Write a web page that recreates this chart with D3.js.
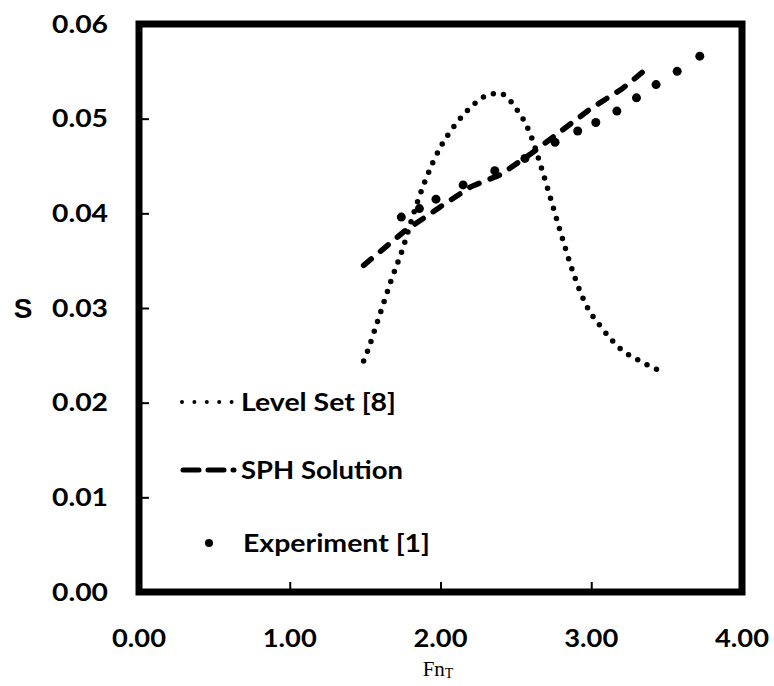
<!DOCTYPE html>
<html><head><meta charset="utf-8">
<script src="https://cdn.jsdelivr.net/npm/d3@7"></script>
<style>body{margin:0;background:#fff}svg{display:block}</style>
</head><body>
<svg id="chart" width="774" height="686"></svg>
<script>
// ---- data ----
const xTicks = [0, 1, 2, 3, 4];
const xTickLabels = ["0.00", "1.00", "2.00", "3.00", "4.00"];
const yTicks = [0, 0.01, 0.02, 0.03, 0.04, 0.05, 0.06];
const yTickLabels = ["0.00", "0.01", "0.02", "0.03", "0.04", "0.05", "0.06"];

const levelSetX = [1.49, 1.52, 1.57, 1.62, 1.67, 1.75, 1.82, 1.90, 2.00, 2.10, 2.20, 2.30, 2.39, 2.45, 2.50, 2.55, 2.60, 2.65, 2.70, 2.75, 2.80, 2.86, 2.92, 2.98, 3.05, 3.12, 3.20, 3.30, 3.45];
const levelSetY = [0.0244, 0.0256, 0.0280, 0.0304, 0.0328, 0.0363, 0.0399, 0.0435, 0.0470, 0.0494, 0.0512, 0.0524, 0.0527, 0.0521, 0.0511, 0.0499, 0.0482, 0.0458, 0.0432, 0.0405, 0.0378, 0.0347, 0.0320, 0.0299, 0.0283, 0.0269, 0.0256, 0.0246, 0.0234];

const sphX = [1.49, 1.76, 2.00, 2.20, 2.40, 2.60, 2.80, 3.00, 3.20, 3.37];
const sphY = [0.0345, 0.0381, 0.0407, 0.0428, 0.0441, 0.0463, 0.0487, 0.0511, 0.0531, 0.0553];

const expX = [1.74, 1.86, 1.97, 2.15, 2.36, 2.56, 2.76, 2.91, 3.03, 3.17, 3.30, 3.43, 3.57, 3.72];
const expY = [0.0396, 0.0405, 0.0415, 0.0430, 0.0445, 0.0458, 0.0475, 0.0487, 0.0496, 0.0508, 0.0522, 0.0536, 0.0550, 0.0566];

const legendLabels = ["Level Set [8]", "SPH Solution", "Experiment [1]"];
const xTitle = "Fn";
const xTitleSub = "T";
const yTitle = "S";

// ---- layout ----
const L = 139, R = 742, T = 24, B = 592;
const svg = d3.select("#chart");
const x = d3.scaleLinear().domain([0, 4]).range([L, R]);
const y = d3.scaleLinear().domain([0, 0.06]).range([B, T]);
const font = "Lato, 'Open Sans', sans-serif";

// ticks (inward)
const gx = svg.append("g").attr("transform", `translate(0,${B})`)
  .call(d3.axisTop(x).tickValues(xTicks.slice(1, -1)).tickSize(10).tickFormat(""));
gx.select(".domain").remove();
gx.selectAll("line").attr("stroke", "#000").attr("stroke-width", 2);

const gy = svg.append("g").attr("transform", `translate(${L},0)`)
  .call(d3.axisRight(y).tickValues(yTicks.slice(1, -1)).tickSize(10).tickFormat(""));
gy.select(".domain").remove();
gy.selectAll("line").attr("stroke", "#000").attr("stroke-width", 2);

// frame
svg.append("rect").attr("x", L).attr("y", T).attr("width", R - L).attr("height", B - T)
  .attr("fill", "none").attr("stroke", "#000").attr("stroke-width", 7);

// tick labels
svg.append("g").selectAll("text").data(xTicks).join("text")
  .attr("x", d => x(d)).attr("y", 647)
  .attr("text-anchor", "middle")
  .attr("font-family", font).attr("font-weight", "bold").attr("font-size", 24)
  .attr("textLength", 54).attr("lengthAdjust", "spacingAndGlyphs")
  .text((d, i) => xTickLabels[i]);

svg.append("g").selectAll("text").data(yTicks).join("text")
  .attr("x", 108).attr("y", d => y(d) + 8.5)
  .attr("text-anchor", "end")
  .attr("font-family", font).attr("font-weight", "bold").attr("font-size", 24)
  .attr("textLength", 56).attr("lengthAdjust", "spacingAndGlyphs")
  .text((d, i) => yTickLabels[i]);

// axis titles
svg.append("text").attr("x", 23).attr("y", y(0.03) + 10)
  .attr("text-anchor", "middle")
  .attr("font-family", "'Liberation Sans', Arial, sans-serif").attr("font-weight", "bold").attr("font-size", 28)
  .text(yTitle);

const xt = svg.append("text").attr("x", 438).attr("y", 676)
  .attr("text-anchor", "middle")
  .attr("font-family", "'Liberation Serif', 'Times New Roman', serif").attr("font-size", 21);
xt.append("tspan").text(xTitle);
xt.append("tspan").attr("font-size", 14).attr("dy", 2).text(xTitleSub);

// series
const lineGen = d3.line().x(d => x(d[0])).y(d => y(d[1]));
const levelData = levelSetX.map((v, i) => [v, levelSetY[i]]);
const sphData = sphX.map((v, i) => [v, sphY[i]]);
const expData = expX.map((v, i) => [v, expY[i]]);

svg.append("path").datum(levelData)
  .attr("d", lineGen.curve(d3.curveMonotoneX))
  .attr("fill", "none").attr("stroke", "#000").attr("stroke-width", 5.5)
  .attr("stroke-linecap", "round").attr("stroke-dasharray", "0 10.5");

svg.append("path").datum(sphData)
  .attr("d", d3.line().x(d => x(d[0])).y(d => y(d[1])).curve(d3.curveLinear))
  .attr("fill", "none").attr("stroke", "#000").attr("stroke-width", 5.5)
  .attr("stroke-linecap", "round").attr("stroke-dasharray", "10 12");

svg.append("g").selectAll("circle").data(expData).join("circle")
  .attr("cx", d => x(d[0])).attr("cy", d => y(d[1])).attr("r", 4.5).attr("fill", "#000");

// legend
const legY = [402, 470, 543];
const legLen = [155, 162, 187];
svg.append("line").attr("x1", 182).attr("x2", 232).attr("y1", legY[0]).attr("y2", legY[0])
  .attr("stroke", "#000").attr("stroke-width", 4).attr("stroke-linecap", "round").attr("stroke-dasharray", "0 12.4");
svg.append("line").attr("x1", 183).attr("x2", 234).attr("y1", legY[1]).attr("y2", legY[1])
  .attr("stroke", "#000").attr("stroke-width", 5).attr("stroke-linecap", "round").attr("stroke-dasharray", "16 9");
svg.append("circle").attr("cx", 209).attr("cy", legY[2]).attr("r", 4).attr("fill", "#000");

svg.append("g").selectAll("text").data(legendLabels).join("text")
  .attr("x", (d, i) => i === 2 ? 243 : 241).attr("y", (d, i) => legY[i] + 9)
  .attr("font-family", font).attr("font-weight", "bold").attr("font-size", 25)
  .attr("textLength", (d, i) => legLen[i]).attr("lengthAdjust", "spacingAndGlyphs")
  .text(d => d);
</script>
</body></html>
